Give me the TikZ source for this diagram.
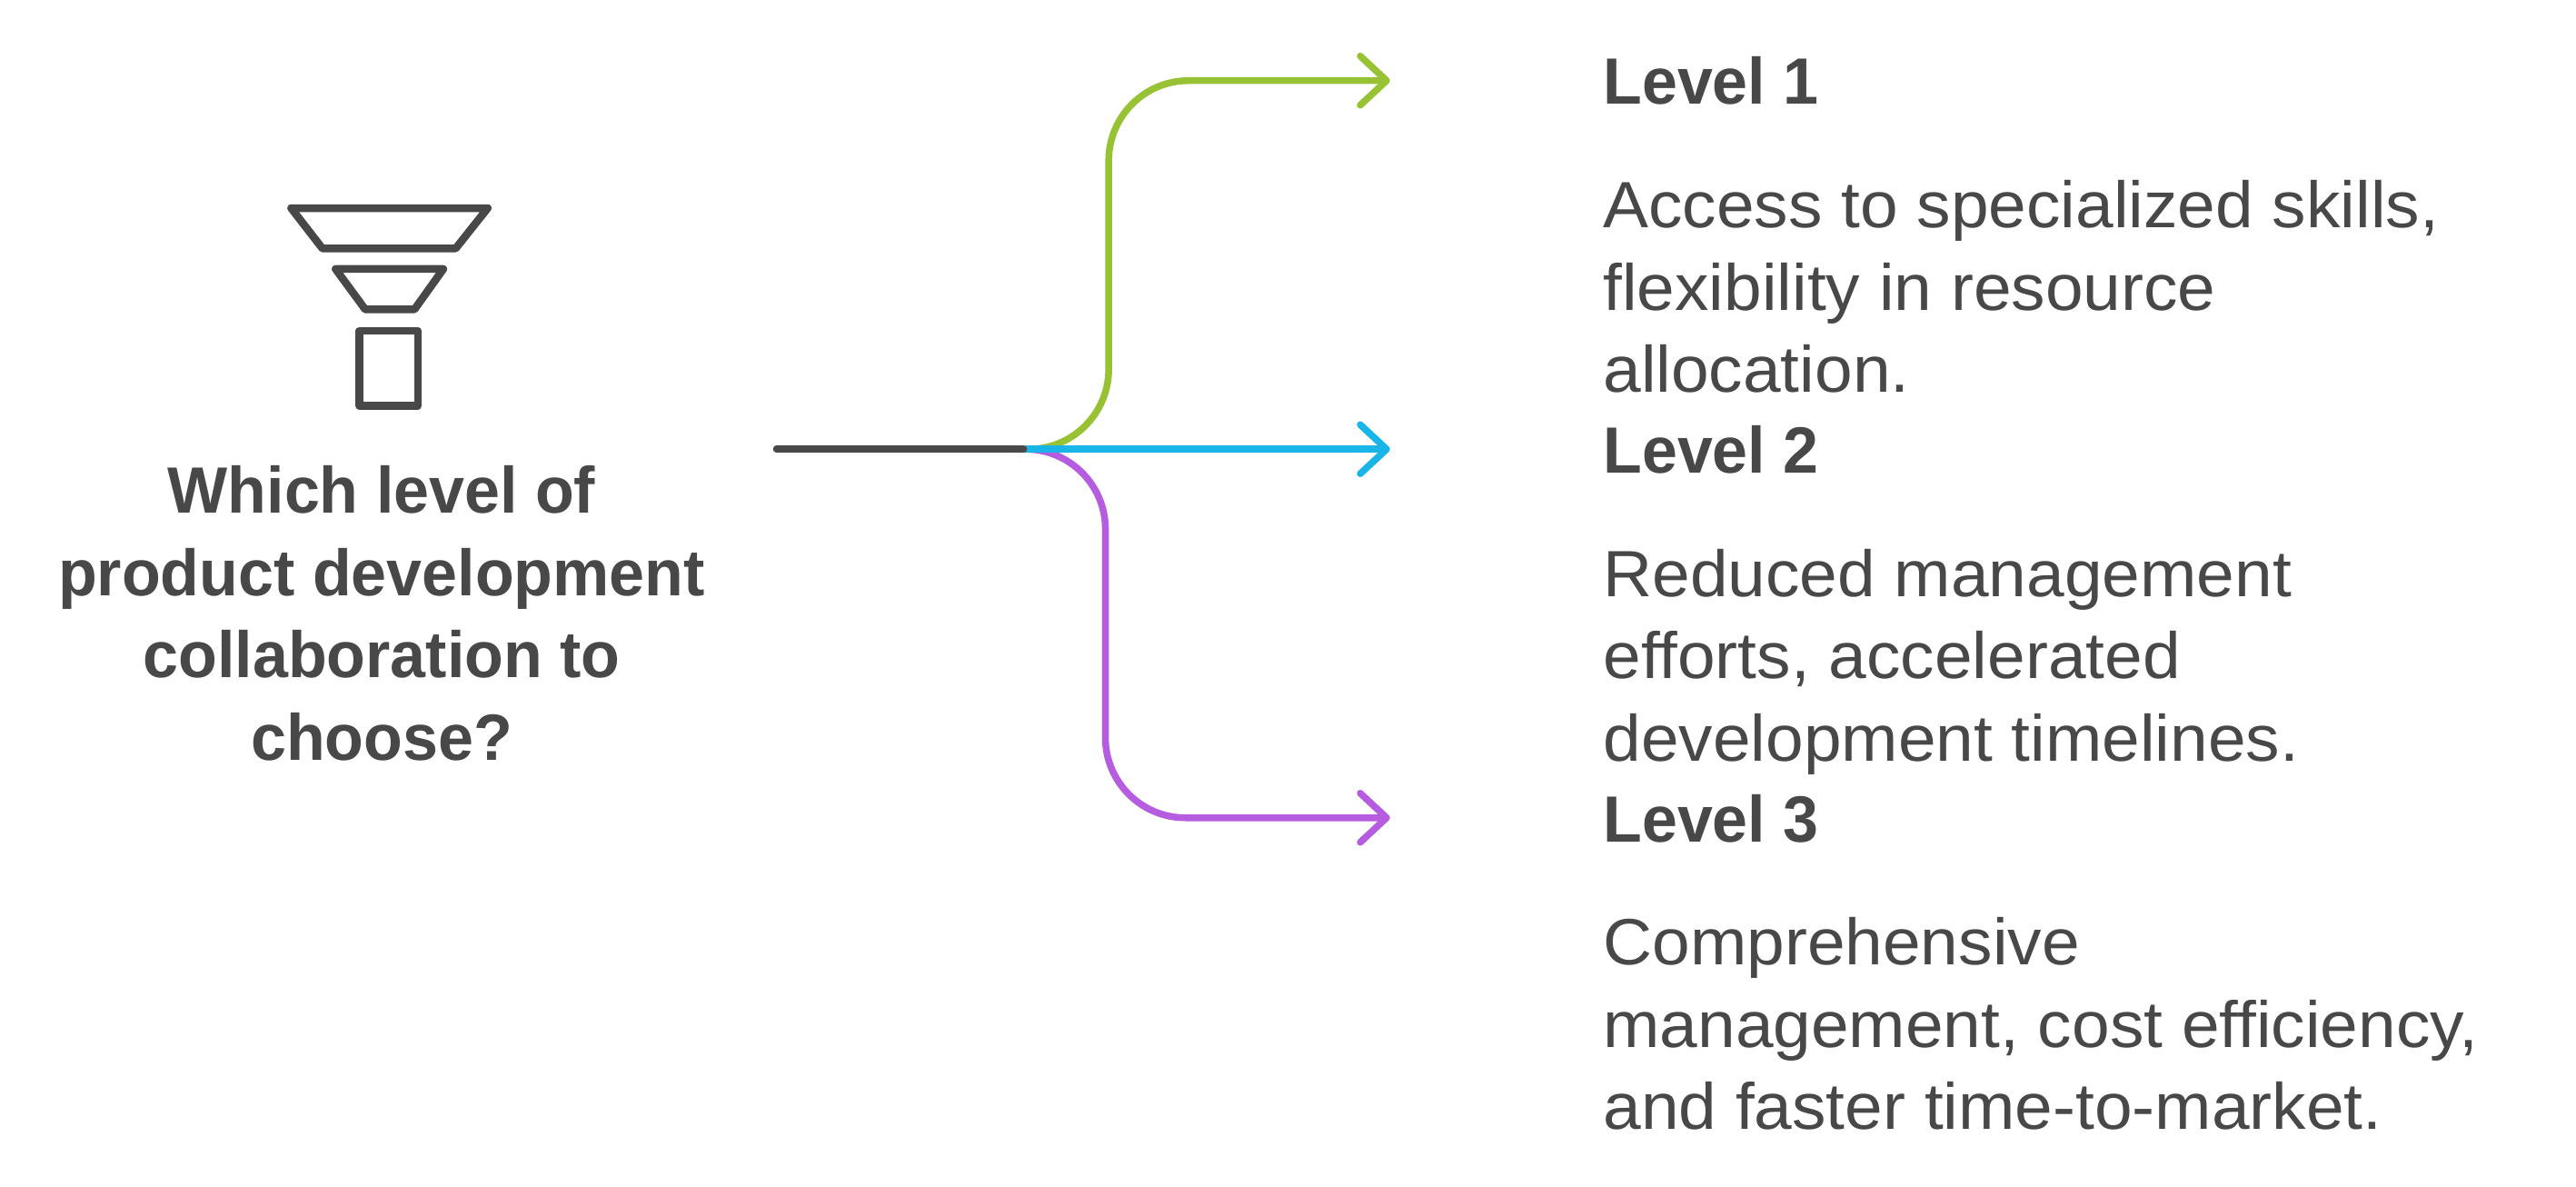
\documentclass[tikz,border=0pt]{standalone}
\usepackage{fontspec}
\setmainfont{Liberation Sans}
\newfontfamily\bodyfam[FakeStretch=1.04]{Liberation Sans}
\newfontfamily\boldfam[FakeStretch=0.972]{Liberation Sans}
\usetikzlibrary{arrows.meta}
\definecolor{ink}{HTML}{484848}
\definecolor{lvgreen}{HTML}{97C233}
\definecolor{lvblue}{HTML}{19B5E8}
\definecolor{lvpurple}{HTML}{B55CE0}
\tikzset{
  title/.style={font=\boldfam\fontsize{72}{90.5}\selectfont\bfseries,text=ink,align=center,inner sep=0pt,anchor=base},
  head/.style={font=\boldfam\fontsize{72}{90.5}\selectfont\bfseries,text=ink,inner sep=0pt,anchor=base west},
  body/.style={font=\bodyfam\fontsize{72}{90.5}\selectfont,text=ink,align=left,inner sep=0pt,anchor=base west},
  icon/.style={draw=ink,line width=8.5pt,line join=round},
  link/.style={line width=7.5pt,line cap=round,line join=round,rounded corners=88pt},
  tip/.style={-{Straight Barb[length=29pt,width=54pt,round]}},
}
\begin{document}
\begin{tikzpicture}[x=1.8103pt,y=-1.8103pt]
\useasboundingbox (0,0) rectangle (1566,720.9);
\fill[white] (0,0) rectangle (1566,720.9);
% funnel icon
\draw[icon] (177,126.5) -- (296.5,126.5) -- (277,151) -- (196,151) -- cycle;
\draw[icon] (204,163.5) -- (269.5,163.5) -- (252,188) -- (222,188) -- cycle;
\draw[icon] (218.5,201) rectangle (254,246.5);
% anchors
\coordinate (start) at (472,273);
\coordinate (hub) at (624,273);
\coordinate (g) at (674,49);
\coordinate (p) at (672,497);
\coordinate (t1) at (845,49);
\coordinate (t2) at (845,273);
\coordinate (t3) at (845,497);
\draw[link,tip,lvgreen] (hub) -| (g) -- (t1);
\draw[link,tip,lvpurple] (hub) -| (p) -- (t3);
\draw[link,tip,lvblue] (hub) -- (t2);
\draw[link,ink,shorten >=3pt] (start) -- (hub);
% text
\node[title] (q) at (232,462) {Which level of\\product development\\collaboration to\\choose?};
\node[head] (h1) at (974.5,63.5) {Level 1};
\node[body] (b1) at (974.5,238.5) {Access to specialized skills,\\flexibility in resource\\allocation.};
\node[head] (h2) at (974.5,287.5) {Level 2};
\node[body] (b2) at (974.5,462.5) {Reduced management\\efforts, accelerated\\development timelines.};
\node[head] (h3) at (974.5,511.5) {Level 3};
\node[body] (b3) at (974.5,686.5) {Comprehensive\\management, cost efficiency,\\and faster time-to-market.};
\end{tikzpicture}
\end{document}
